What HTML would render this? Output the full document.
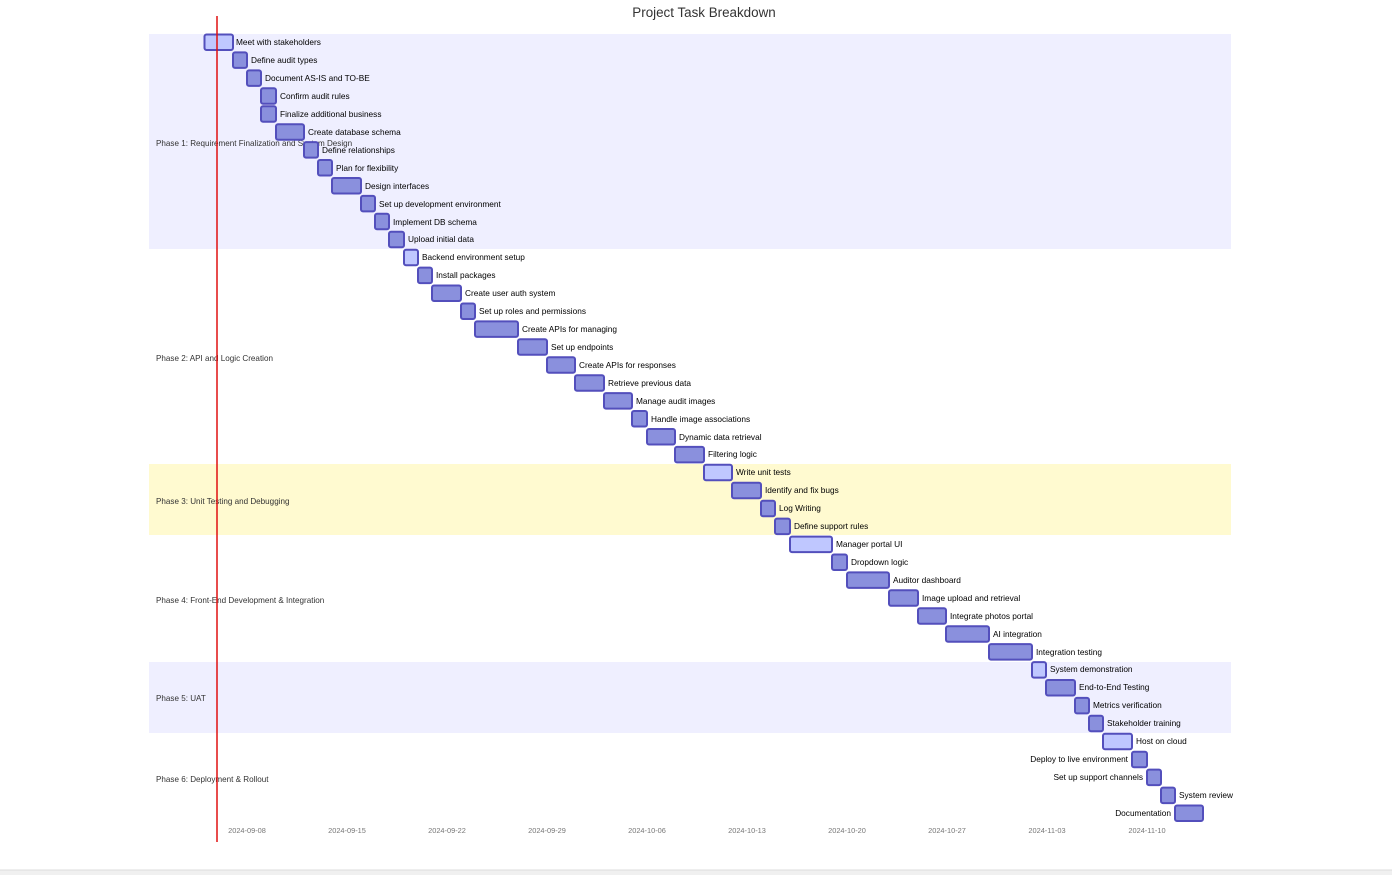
<!DOCTYPE html>
<html><head><meta charset="utf-8"><style>
html,body{margin:0;padding:0;background:#fff;width:1392px;height:875px;overflow:hidden}
svg{display:block;font-family:"Liberation Sans",sans-serif}
.b{fill:#8a90dd;stroke:#534fbc;stroke-width:2}
.a{fill:#bfc7ff;stroke:#534fbc;stroke-width:2}
.t{font-size:8.3px;fill:#000}
.s{font-size:8.1px;fill:#333}
.x{font-size:7.4px;fill:#777;text-anchor:middle}
</style></head><body>
<svg width="1392" height="875" viewBox="0 0 1392 875">
<rect x="149" y="34" width="1082" height="215" fill="#efefff"/>
<rect x="149" y="464" width="1082" height="71" fill="#fffad0"/>
<rect x="149" y="662" width="1082" height="71" fill="#efefff"/>
<text x="704" y="17" font-size="13.4" fill="#333" text-anchor="middle">Project Task Breakdown</text>
<text class="s" x="156" y="146">Phase 1: Requirement Finalization and System Design</text>
<text class="s" x="156" y="361">Phase 2: API and Logic Creation</text>
<text class="s" x="156" y="504">Phase 3: Unit Testing and Debugging</text>
<text class="s" x="156" y="603">Phase 4: Front-End Development &amp; Integration</text>
<text class="s" x="156" y="701">Phase 5: UAT</text>
<text class="s" x="156" y="782">Phase 6: Deployment &amp; Rollout</text>
<g>
<rect class="a" x="204.5" y="34.5" width="28.5" height="15.5" rx="2"/><text class="t" x="236" y="45">Meet with stakeholders</text>
<rect class="b" x="233" y="52.4" width="14" height="15.5" rx="2"/><text class="t" x="251" y="63">Define audit types</text>
<rect class="b" x="247" y="70.4" width="14" height="15.5" rx="2"/><text class="t" x="265" y="81">Document AS-IS and TO-BE</text>
<rect class="b" x="261" y="88.3" width="15" height="15.5" rx="2"/><text class="t" x="280" y="99">Confirm audit rules</text>
<rect class="b" x="261" y="106.2" width="15" height="15.5" rx="2"/><text class="t" x="280" y="117">Finalize additional business</text>
<rect class="b" x="276" y="124.2" width="28" height="15.5" rx="2"/><text class="t" x="308" y="135">Create database schema</text>
<rect class="b" x="304" y="142.1" width="14" height="15.5" rx="2"/><text class="t" x="322" y="153">Define relationships</text>
<rect class="b" x="318" y="160" width="14" height="15.5" rx="2"/><text class="t" x="336" y="171">Plan for flexibility</text>
<rect class="b" x="332" y="178" width="29" height="15.5" rx="2"/><text class="t" x="365" y="189">Design interfaces</text>
<rect class="b" x="361" y="195.9" width="14" height="15.5" rx="2"/><text class="t" x="379" y="207">Set up development environment</text>
<rect class="b" x="375" y="213.8" width="14" height="15.5" rx="2"/><text class="t" x="393" y="225">Implement DB schema</text>
<rect class="b" x="389" y="231.7" width="15" height="15.5" rx="2"/><text class="t" x="408" y="242">Upload initial data</text>
<rect class="a" x="404" y="249.7" width="14" height="15.5" rx="2"/><text class="t" x="422" y="260">Backend environment setup</text>
<rect class="b" x="418" y="267.6" width="14" height="15.5" rx="2"/><text class="t" x="436" y="278">Install packages</text>
<rect class="b" x="432" y="285.5" width="29" height="15.5" rx="2"/><text class="t" x="465" y="296">Create user auth system</text>
<rect class="b" x="461" y="303.5" width="14" height="15.5" rx="2"/><text class="t" x="479" y="314">Set up roles and permissions</text>
<rect class="b" x="475" y="321.4" width="43" height="15.5" rx="2"/><text class="t" x="522" y="332">Create APIs for managing</text>
<rect class="b" x="518" y="339.3" width="29" height="15.5" rx="2"/><text class="t" x="551" y="350">Set up endpoints</text>
<rect class="b" x="547" y="357.3" width="28" height="15.5" rx="2"/><text class="t" x="579" y="368">Create APIs for responses</text>
<rect class="b" x="575" y="375.2" width="29" height="15.5" rx="2"/><text class="t" x="608" y="386">Retrieve previous data</text>
<rect class="b" x="604" y="393.1" width="28" height="15.5" rx="2"/><text class="t" x="636" y="404">Manage audit images</text>
<rect class="b" x="632" y="411" width="15" height="15.5" rx="2"/><text class="t" x="651" y="422">Handle image associations</text>
<rect class="b" x="647" y="429" width="28" height="15.5" rx="2"/><text class="t" x="679" y="440">Dynamic data retrieval</text>
<rect class="b" x="675" y="446.9" width="29" height="15.5" rx="2"/><text class="t" x="708" y="457">Filtering logic</text>
<rect class="a" x="704" y="464.8" width="28" height="15.5" rx="2"/><text class="t" x="736" y="475">Write unit tests</text>
<rect class="b" x="732" y="482.8" width="29" height="15.5" rx="2"/><text class="t" x="765" y="493">Identify and fix bugs</text>
<rect class="b" x="761" y="500.7" width="14" height="15.5" rx="2"/><text class="t" x="779" y="511">Log Writing</text>
<rect class="b" x="775" y="518.6" width="15" height="15.5" rx="2"/><text class="t" x="794" y="529">Define support rules</text>
<rect class="a" x="790" y="536.6" width="42" height="15.5" rx="2"/><text class="t" x="836" y="547">Manager portal UI</text>
<rect class="b" x="832" y="554.5" width="15" height="15.5" rx="2"/><text class="t" x="851" y="565">Dropdown logic</text>
<rect class="b" x="847" y="572.4" width="42" height="15.5" rx="2"/><text class="t" x="893" y="583">Auditor dashboard</text>
<rect class="b" x="889" y="590.3" width="29" height="15.5" rx="2"/><text class="t" x="922" y="601">Image upload and retrieval</text>
<rect class="b" x="918" y="608.3" width="28" height="15.5" rx="2"/><text class="t" x="950" y="619">Integrate photos portal</text>
<rect class="b" x="946" y="626.2" width="43" height="15.5" rx="2"/><text class="t" x="993" y="637">AI integration</text>
<rect class="b" x="989" y="644.1" width="43" height="15.5" rx="2"/><text class="t" x="1036" y="655">Integration testing</text>
<rect class="a" x="1032" y="662.1" width="14" height="15.5" rx="2"/><text class="t" x="1050" y="672">System demonstration</text>
<rect class="b" x="1046" y="680" width="29" height="15.5" rx="2"/><text class="t" x="1079" y="690">End-to-End Testing</text>
<rect class="b" x="1075" y="697.9" width="14" height="15.5" rx="2"/><text class="t" x="1093" y="708">Metrics verification</text>
<rect class="b" x="1089" y="715.8" width="14" height="15.5" rx="2"/><text class="t" x="1107" y="726">Stakeholder training</text>
<rect class="a" x="1103" y="733.8" width="29" height="15.5" rx="2"/><text class="t" x="1136" y="744">Host on cloud</text>
<rect class="b" x="1132" y="751.7" width="15" height="15.5" rx="2"/><text class="t" x="1128" y="762" text-anchor="end">Deploy to live environment</text>
<rect class="b" x="1147" y="769.6" width="14" height="15.5" rx="2"/><text class="t" x="1143" y="780" text-anchor="end">Set up support channels</text>
<rect class="b" x="1161" y="787.6" width="14" height="15.5" rx="2"/><text class="t" x="1179" y="798">System review</text>
<rect class="b" x="1175" y="805.5" width="28" height="15.5" rx="2"/><text class="t" x="1171" y="816" text-anchor="end">Documentation</text>
</g>
<text class="x" x="247" y="833">2024-09-08</text>
<text class="x" x="347" y="833">2024-09-15</text>
<text class="x" x="447" y="833">2024-09-22</text>
<text class="x" x="547" y="833">2024-09-29</text>
<text class="x" x="647" y="833">2024-10-06</text>
<text class="x" x="747" y="833">2024-10-13</text>
<text class="x" x="847" y="833">2024-10-20</text>
<text class="x" x="947" y="833">2024-10-27</text>
<text class="x" x="1047" y="833">2024-11-03</text>
<text class="x" x="1147" y="833">2024-11-10</text>
<line x1="217" y1="16" x2="217" y2="842" stroke="#e01010" stroke-width="1.5"/>
<rect x="0" y="870" width="1392" height="5" fill="#f0f0f0"/>
<line x1="0" y1="870" x2="1392" y2="870" stroke="#ddd"/>
</svg>
</body></html>
